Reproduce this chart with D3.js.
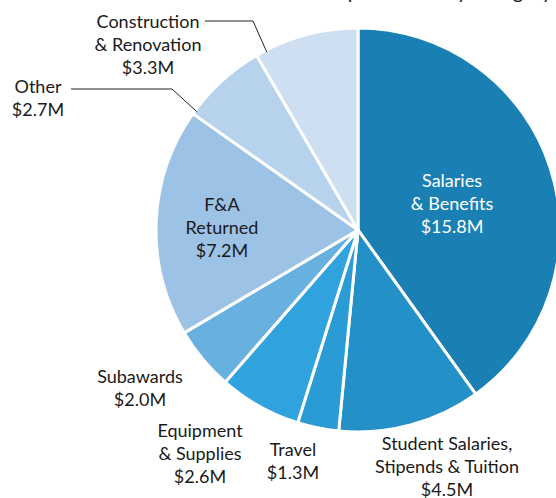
<!DOCTYPE html>
<meta charset="utf-8">
<style>
body { margin: 0; background: #fff; }
text { font-family: Lato, sans-serif; font-size: 18px; fill: #1a1a1a; }
.inside { fill: #fff; }
.leader { fill: none; stroke: #222; stroke-width: 1; }
</style>
<svg width="556" height="498"></svg>
<script src="https://d3js.org/d3.v7.min.js"></script>
<script>

var categories = ["Salaries & Benefits", "Student Salaries, Stipends & Tuition", "Travel",
    "Equipment & Supplies", "Subawards", "F&A Returned", "Other", "Construction & Renovation"];
var amounts = [15.8, 4.5, 1.3, 2.6, 2.0, 7.2, 2.7, 3.3];
var colors = ["#1a80b3", "#2490c8", "#2b9bd6", "#30a3de", "#68b0e0", "#9cc2e5", "#b6d2ec", "#cfdff2"];
var labelLines = [
  ["Salaries", "& Benefits"],
  ["Student Salaries,", "Stipends & Tuition"],
  ["Travel"],
  ["Equipment", "& Supplies"],
  ["Subawards"],
  ["F&A", "Returned"],
  ["Other"],
  ["Construction", "& Renovation"]
];
var title = "Expenditures by Category";

var svg = d3.select("svg"),
    cx = 358, cy = 230, radius = 202;

svg.append("text")
    .attr("x", 552)
    .attr("y", -1)
    .attr("text-anchor", "end")
    .style("font-size", "20px")
    .text(title);

var pie = d3.pie().sort(null).value(function(d) { return d; });
var arc = d3.arc().innerRadius(0).outerRadius(radius);
var arcs = pie(amounts);

var g = svg.append("g").attr("transform", "translate(" + cx + "," + cy + ")");

g.selectAll("path")
  .data(arcs)
  .enter().append("path")
    .attr("d", arc)
    .attr("fill", function(d, i) { return colors[i]; })
    .attr("stroke", "#fff")
    .attr("stroke-width", 3)
    .attr("stroke-linejoin", "round");

// label anchor points (page coords)
var labelPos = [
  {x: 452, y: 187, cls: "inside"},
  {x: 447, y: 450},
  {x: 293, y: 456},
  {x: 200, y: 437},
  {x: 140, y: 383},
  {x: 222, y: 211},
  {x: 38, y: 93},
  {x: 148, y: 28}
];

function fmt(v) { return "$" + v.toFixed(1) + "M"; }

labelPos.forEach(function(p, i) {
  var t = svg.append("text")
      .attr("class", p.cls || null)
      .attr("text-anchor", "middle")
      .attr("x", p.x)
      .attr("y", p.y);
  labelLines[i].concat([fmt(amounts[i])]).forEach(function(line, j) {
    t.append("tspan")
        .attr("x", p.x)
        .attr("dy", j ? 23 : 0)
        .text(line);
  });
});

// leader lines from label to slice edge
function edge(i, frac) {
  var a = arcs[i].startAngle + (arcs[i].endAngle - arcs[i].startAngle) * frac;
  return [cx + Math.sin(a) * (radius - 2), cy - Math.cos(a) * (radius - 2)];
}
var leaders = [
  {i: 7, from: [205, 21], knee: [253, 21], frac: 0.1},
  {i: 6, from: [71, 89], knee: [172, 89], frac: 0.045}
];
leaders.forEach(function(l) {
  svg.append("path")
      .attr("class", "leader")
      .attr("d", d3.line()([l.from, l.knee, edge(l.i, l.frac)]));
});

</script>
